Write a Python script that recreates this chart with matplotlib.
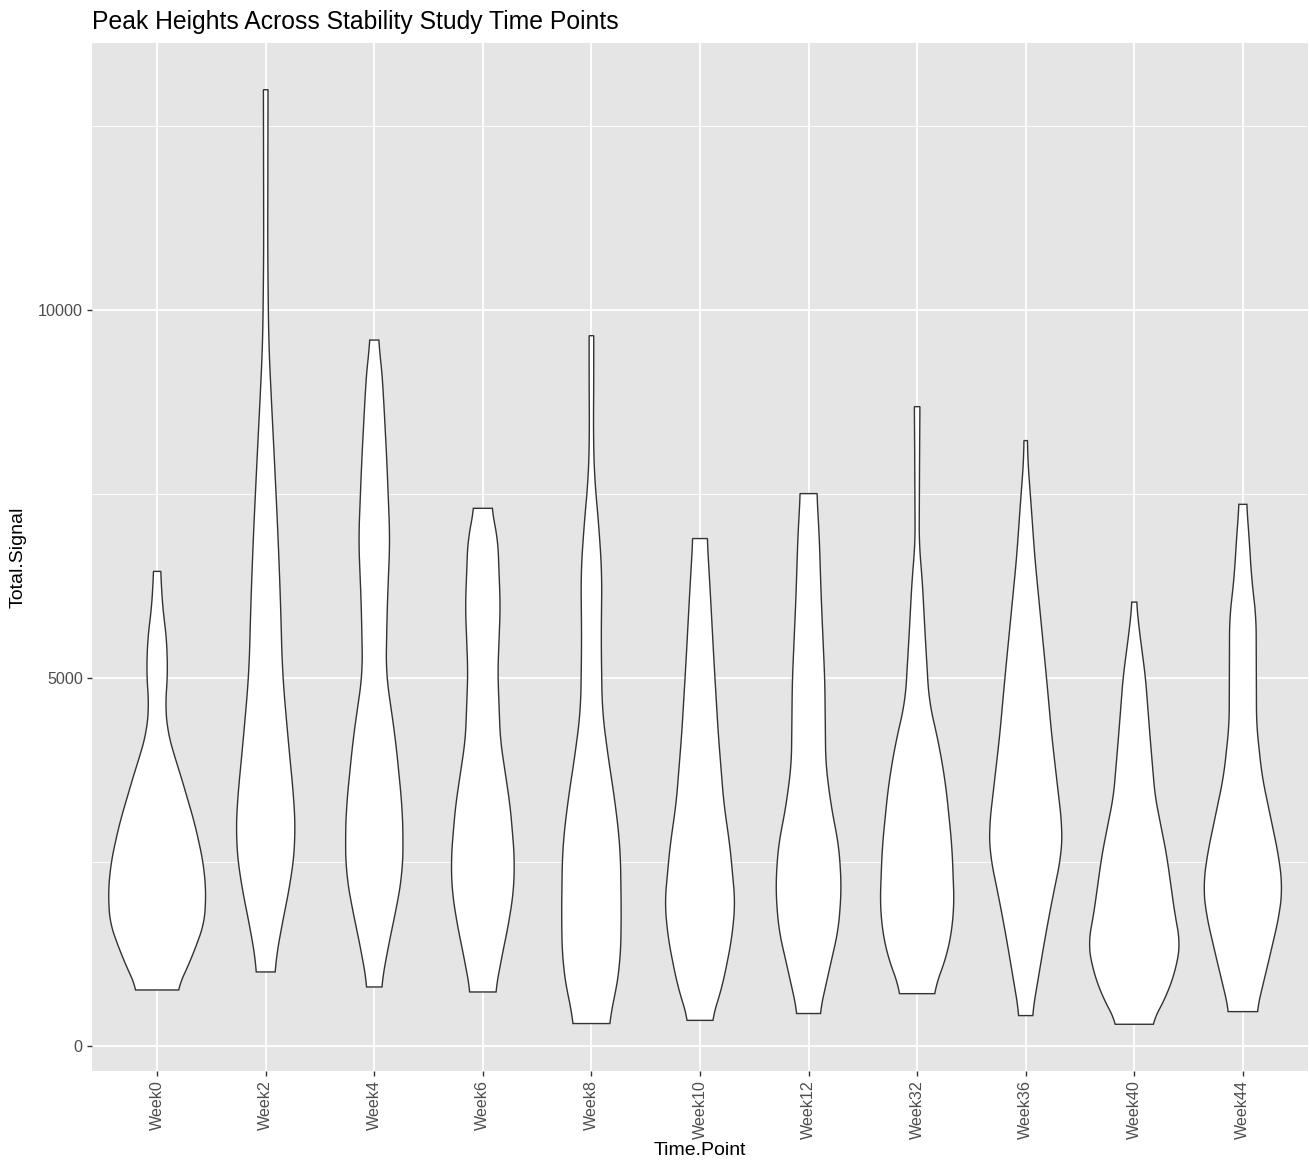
import numpy as np
import matplotlib
matplotlib.use("Agg")
import matplotlib.pyplot as plt

plt.rcParams['font.family'] = ['Liberation Sans', 'DejaVu Sans']

# ---- data ----
categories = ["Week0", "Week2", "Week4", "Week6", "Week8", "Week10",
              "Week12", "Week32", "Week36", "Week40", "Week44"]

# violin profiles: signal levels (bottom -> top) and relative density widths
w0_y = [762, 1211, 1673, 2122, 2531, 3034, 3714, 3932, 4259, 4612, 5075, 5524, 5973, 6449]
w0_d = [20, 35, 47.5, 49, 45.8, 37.5, 22.8, 17.5, 10.8, 8.3, 10.5, 9.5, 5.5, 3.5]

w2_y = [1007, 1442, 1891, 2354, 2803, 3252, 4163, 5075, 5973, 6884, 7973, 8884, 9565, 10789, 12993]
w2_d = [8.3, 13.3, 20, 26.7, 30, 29, 22.5, 16.7, 15, 12.5, 8.7, 5.3, 3, 2, 2.3]

w4_y = [803, 1442, 1891, 2354, 2803, 3252, 4163, 5075, 5973, 6884, 7973, 8884, 9333, 9592]
w4_d = [6.7, 15.3, 22.5, 28.3, 29, 28, 21.3, 11.7, 13, 15.7, 12.5, 9, 6.7, 3.7]

w6_y = [735, 1211, 1673, 2122, 2571, 3252, 4163, 5075, 5973, 6884, 7306]
w6_d = [12.5, 19, 26, 31, 31.7, 27.5, 17.5, 15, 17.5, 15, 8.7]

w8_y = [306, 630, 1129, 1752, 2687, 3311, 3934, 4557, 5493, 6428, 7051, 7737, 8298, 9046, 9651]
w8_d = [17, 23, 29, 30, 29, 23.8, 16.7, 10.8, 9.8, 10.5, 7.5, 3, 2, 2.3, 2.3]

w10_y = [349, 817, 1440, 1939, 2687, 3311, 4246, 5181, 6116, 6895]
w10_d = [11.7, 22.5, 31.7, 35.3, 30.3, 23.8, 18.3, 14.2, 10.5, 7.2]

w12_y = [442, 1021, 1583, 2146, 2708, 3271, 3833, 4958, 6083, 6926, 7506]
w12_d = [11, 20.5, 30, 33, 30.5, 22.5, 17.2, 16.3, 12.7, 10.7, 8.3]

w32_y = [712, 1302, 1865, 2708, 3552, 4114, 4677, 5520, 6364, 6814, 8164, 8687]
w32_d = [15.8, 31.7, 37.3, 35, 28.7, 21.7, 12, 8.3, 5, 2, 2.5, 2.8]

w36_y = [414, 979, 1517, 2054, 2592, 2968, 3398, 4204, 5011, 5817, 6624, 7430, 7968, 8226]
w36_d = [6.3, 13.3, 20, 27.5, 35.8, 36.7, 33, 26.2, 20.8, 15, 9.2, 5, 2, 1.7]

w40_y = [296, 710, 1087, 1409, 1785, 2592, 3398, 4204, 5011, 5710, 6032]
w40_d = [17.2, 33.3, 42.5, 46, 40.8, 32.5, 20.8, 15.8, 11.2, 4.5, 2.2]

w44_y = [468, 1248, 1785, 2162, 2592, 3129, 3667, 4366, 5817, 6355, 7000, 7360]
w44_d = [13.7, 27.5, 36.7, 39.7, 35.8, 27.5, 19.2, 13.7, 13.3, 8.8, 5.8, 3.7]

profiles_y = [w0_y, w2_y, w4_y, w6_y, w8_y, w10_y, w12_y, w32_y, w36_y, w40_y, w44_y]
profiles_d = [w0_d, w2_d, w4_d, w6_d, w8_d, w10_d, w12_d, w32_d, w36_d, w40_d, w44_d]

y_ticks = [0, 5000, 10000]
title = "Peak Heights Across Stability Study Time Points"
x_label = "Time.Point"
y_label = "Total.Signal"

# ---- figure ----
W, H, DPI = 1309, 1168, 100
fig = plt.figure(figsize=(W / DPI, H / DPI), dpi=DPI)
ax = fig.add_axes([92 / W, 1 - 1071 / H, (1308 - 92) / W, (1071 - 43) / H])
ax.set_facecolor("#E5E5E5")
for s in ax.spines.values():
    s.set_visible(False)

dmax = max(max(d) for d in profiles_d)
half_max = 0.45


def smooth(v, k=21):
    pad = k // 2
    vp = np.pad(v, pad, mode="edge")
    return np.convolve(vp, np.ones(k) / k, mode="valid")


for i, (py, pd) in enumerate(zip(profiles_y, profiles_d)):
    pos = i + 1
    py = np.asarray(py, float)
    pd = np.asarray(pd, float)
    yy = np.linspace(py[0], py[-1], 300)
    hw = np.interp(yy, py, pd)
    hw = smooth(hw) / dmax * half_max
    xs = np.concatenate([pos - hw, (pos + hw)[::-1]])
    ys = np.concatenate([yy, yy[::-1]])
    ax.fill(xs, ys, facecolor="white", edgecolor="#333333", lw=1.0, zorder=3,
            joinstyle="miter")

# scales (ggplot-like expansion)
all_y = np.concatenate([np.asarray(p, float) for p in profiles_y])
lo, hi = all_y.min(), all_y.max()
span = hi - lo
ax.set_ylim(lo - 0.05 * span, hi + 0.05 * span)
ax.set_xlim(0.4, len(categories) + 0.6)

ax.set_xticks(range(1, len(categories) + 1))
ax.set_xticklabels(categories, rotation=90)
ax.set_yticks(y_ticks)
ax.set_yticklabels([str(v) for v in y_ticks])
minor = [(y_ticks[j] + y_ticks[j + 1]) / 2 for j in range(len(y_ticks) - 1)]
minor.append(y_ticks[-1] + (y_ticks[1] - y_ticks[0]) / 2)
ax.set_yticks(minor, minor=True)

ax.grid(which="major", color="white", lw=1.3, zorder=0)
ax.grid(which="minor", axis="y", color="white", lw=0.65, zorder=0)
ax.set_axisbelow(True)
ax.tick_params(axis="both", which="major", length=3.6, width=1.0, color="#333333",
               labelcolor="#4D4D4D", labelsize=11.6, pad=3)
ax.tick_params(axis="y", which="minor", length=0)

ax.set_xlabel(x_label, fontsize=14, color="black", labelpad=2)
ax.set_ylabel(y_label, fontsize=14, color="black", labelpad=8)
fig.text(92 / W, 1 - 22 / H, title, fontsize=17.8, color="black",
         ha="left", va="center")

fig.savefig("out.png", dpi=DPI, facecolor="white")
